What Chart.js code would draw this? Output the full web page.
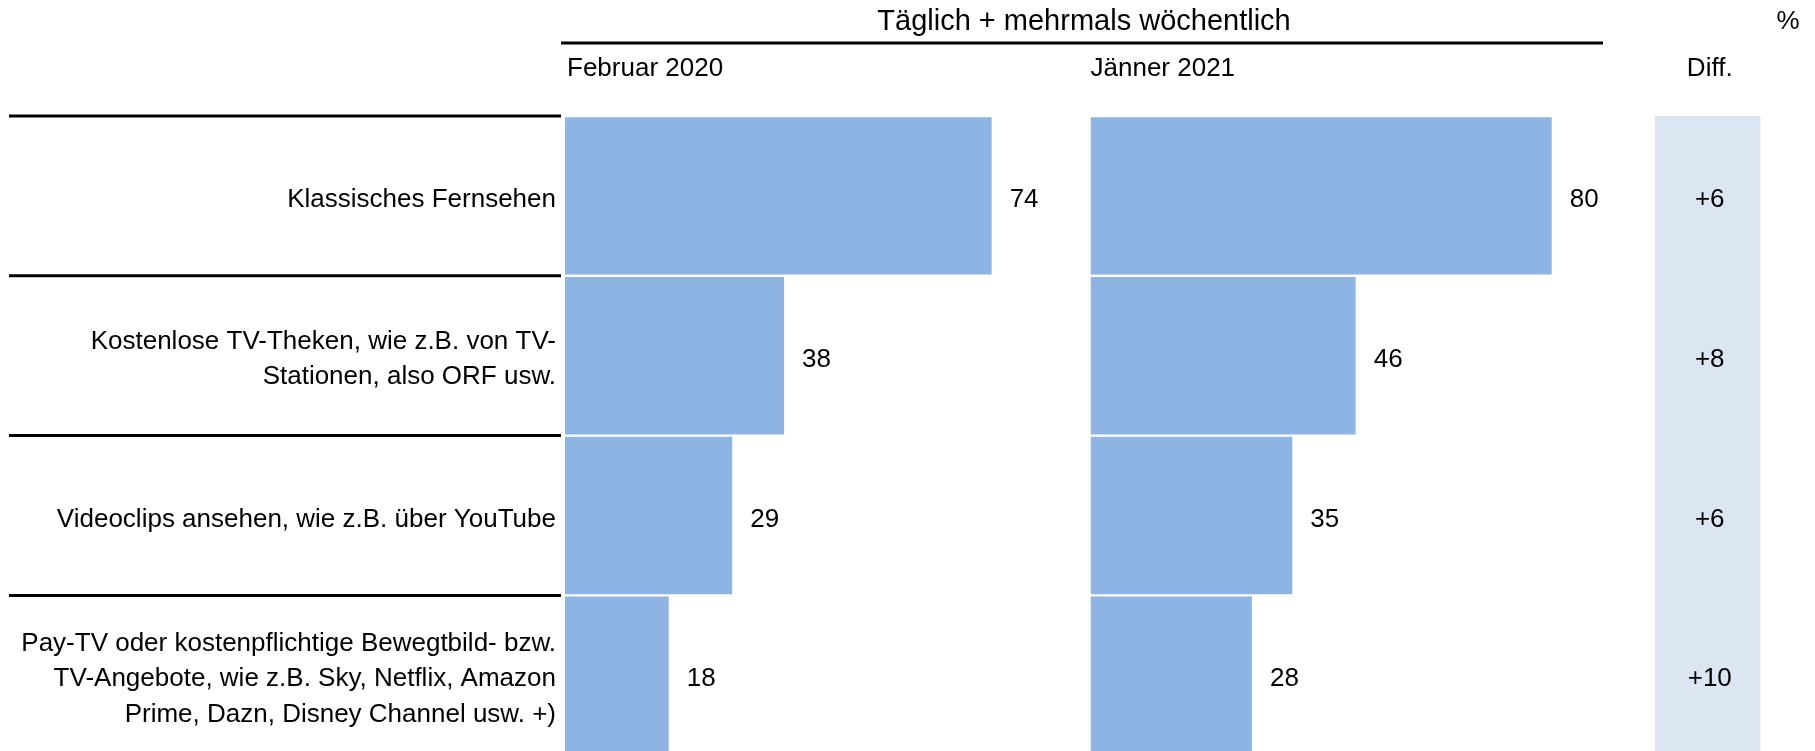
<!DOCTYPE html>
<html>
<head>
<meta charset="utf-8">
<script src="https://cdn.jsdelivr.net/npm/chart.js@4"></script>
<style>
  html, body { margin: 0; padding: 0; overflow: hidden; background: #fff; }
  #wrap { width: 1815px; height: 760px; }
</style>
</head>
<body>
<div id="wrap"><canvas id="chart" width="1815" height="760"></canvas></div>
<script>
// chart data
const categories = [
  'Klassisches Fernsehen',
  ['Kostenlose TV-Theken, wie z.B. von TV-', 'Stationen, also ORF usw.'],
  'Videoclips ansehen, wie z.B. über YouTube',
  ['Pay-TV oder kostenpflichtige Bewegtbild- bzw.', 'TV-Angebote, wie z.B. Sky, Netflix, Amazon', 'Prime, Dazn, Disney Channel usw. +)']
]
const feb2020 = [74, 38, 29, 18]
const jan2021 = [80, 46, 35, 28]
const diffValues = [6, 8, 6, 10]
const headerTitle = 'Täglich + mehrmals wöchentlich'
const periodLabels = ['Februar 2020', 'Jänner 2021']
const diffHeader = 'Diff.'
const unitLabel = '%'

const FONT = '"Liberation Sans", Arial, sans-serif'
const BAR_BLUE = '#8EB4E3'
const DIFF_BG = '#DCE6F2'
const TEXT_SHIFT = 4 // labels sit a little below the row centre

Chart.defaults.font.family = FONT
Chart.defaults.color = '#000'

const decorations = {
  id: 'decorations',
  afterDraw: (chart) => {
    const ctx = chart.ctx
    const y = chart.scales.y
    const x1 = chart.scales.x1
    const x2 = chart.scales.x2
    const x3 = chart.scales.x3
    const rowH = (y.bottom - y.top) / categories.length
    const diffX = (x3.left + x3.right) / 2 + 2

    ctx.save()
    ctx.fillStyle = '#000'
    ctx.strokeStyle = '#000'

    // header
    ctx.font = '29px ' + FONT
    ctx.textAlign = 'center'
    ctx.textBaseline = 'middle'
    ctx.fillText(headerTitle, 1084, 22)

    ctx.lineWidth = 3
    ctx.beginPath()
    ctx.moveTo(561, 43)
    ctx.lineTo(1603, 43)
    ctx.stroke()

    ctx.font = '26px ' + FONT
    ctx.textAlign = 'left'
    ctx.fillText(periodLabels[0], x1.left + 2, 69)
    ctx.fillText(periodLabels[1], x2.left, 69)
    ctx.textAlign = 'center'
    ctx.fillText(diffHeader, diffX, 69)
    ctx.fillText(unitLabel, 1788, 22)

    // row separators in the label area
    ctx.lineWidth = 3
    for (let i = 0; i < categories.length; i++) {
      const yy = y.getPixelForValue(i) - rowH / 2
      ctx.beginPath()
      ctx.moveTo(9, yy)
      ctx.lineTo(561, yy)
      ctx.stroke()
    }

    // value labels
    ctx.textAlign = 'left'
    const sets = [[0, x1, feb2020], [1, x2, jan2021]]
    for (const [idx, scale, values] of sets) {
      const meta = chart.getDatasetMeta(idx)
      values.forEach((v, i) => {
        ctx.fillText(String(v), scale.getPixelForValue(v) + 18, meta.data[i].y + TEXT_SHIFT)
      })
    }

    ctx.textAlign = 'center'
    const diffMeta = chart.getDatasetMeta(2)
    diffValues.forEach((v, i) => {
      ctx.fillText((v > 0 ? '+' : '') + v, diffX, diffMeta.data[i].y + TEXT_SHIFT)
    })

    ctx.restore()
  }
}

const barCommon = {
  grouped: false,
  categoryPercentage: 1,
  barPercentage: 0.985,
  borderWidth: 0
}

new Chart(document.getElementById('chart'), {
  type: 'bar',
  data: {
    labels: categories,
    datasets: [
      Object.assign({ label: periodLabels[0], data: feb2020, xAxisID: 'x1', backgroundColor: BAR_BLUE }, barCommon),
      Object.assign({ label: periodLabels[1], data: jan2021, xAxisID: 'x2', backgroundColor: BAR_BLUE }, barCommon),
      Object.assign({ label: diffHeader, data: diffValues.map(() => [0, 1]), xAxisID: 'x3', backgroundColor: DIFF_BG }, barCommon, { barPercentage: 1 })
    ]
  },
  options: {
    indexAxis: 'y',
    responsive: false,
    animation: false,
    layout: { padding: { left: 9, right: 54.5, top: 116, bottom: 4.8 } },
    plugins: {
      legend: { display: false },
      tooltip: { enabled: false }
    },
    scales: {
      y: {
        type: 'category',
        position: 'left',
        grid: { display: false, drawTicks: false },
        border: { display: false },
        ticks: {
          padding: 9,
          labelOffset: TEXT_SHIFT,
          font: { size: 26, lineHeight: 1.35 },
          color: '#000'
        },
        afterFit: (scale) => {
          // fixed label column; labels sit inside their rows so no extra padding
          scale.width = 556
          scale.paddingTop = 0
          scale.paddingBottom = 0
        }
      },
      x1: {
        type: 'linear', position: 'bottom', stack: 'cols', stackWeight: 525.5,
        min: 0, max: 91.15, display: false
      },
      x2: {
        type: 'linear', position: 'bottom', stack: 'cols', stackWeight: 564.5,
        min: 0, max: 97.92, display: false
      },
      x3: {
        type: 'linear', position: 'bottom', stack: 'cols', stackWeight: 105.5,
        min: 0, max: 1, display: false
      }
    }
  },
  plugins: [decorations]
})
</script>
</body>
</html>
